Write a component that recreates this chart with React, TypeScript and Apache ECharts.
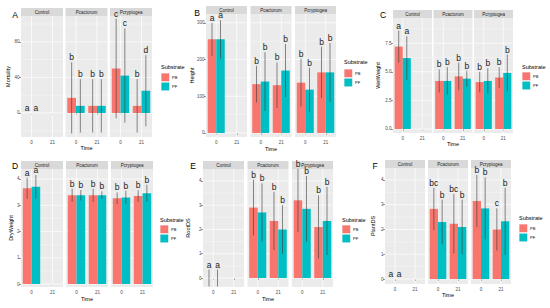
import React, { useEffect, useRef } from "react";
import * as echarts from "echarts";

const facets = ["Control", "Pcactorum", "Pcryptogea"];
const times = ["0", "21"];
const substrates = ["PB", "PF"];
const panelLetters = ["A", "B", "C", "D", "E", "F"];
const yTitles = ["Mortality", "Height", "WetWeight", "DryWeight", "RootDS", "PlantDS"];
const xTitle = "Time";
const legendTitle = "Substrate";

// order in every array: Control-0, Control-21, Pcactorum-0, Pcactorum-21, Pcryptogea-0, Pcryptogea-21
const mortalityPB = [0, null, 17, 8, 50, 8];
const mortalityPBsd = [0, null, 40, 30, 56, 30];
const mortalityPF = [0, null, 8, 8, 42, 25];
const mortalityPFsd = [0, null, 30, 30, 53, 40];
const mortalityPBletters = ["a", "", "b", "b", "c", "b"];
const mortalityPFletters = ["a", "", "b", "b", "c", "d"];
const mortalityTicks = [0, 40, 80];

const heightPB = [255, null, 133, 130, 137, 165];
const heightPBsd = [45, null, 50, 62, 65, 70];
const heightPF = [255, null, 140, 170, 118, 165];
const heightPFsd = [52, null, 80, 72, 60, 80];
const heightPBletters = ["a", "", "b", "b", "b", "b"];
const heightPFletters = ["a", "", "b", "b", "b", "b"];
const heightTicks = [0, 100, 200, 300];

const wetPB = [7.2, null, 4.2, 4.6, 4.1, 4.5];
const wetPBsd = [1.4, null, 1.0, 1.2, 0.9, 0.9];
const wetPF = [6.2, null, 4.2, 4.4, 4.2, 4.9];
const wetPFsd = [1.9, null, 1.2, 0.7, 1.1, 1.6];
const wetPBletters = ["a", "", "b", "b", "b", "b"];
const wetPFletters = ["a", "", "b", "b", "b", "b"];
const wetTicks = [0, 2.5, 5, 7.5];

const dryPB = [3.65, null, 3.38, 3.38, 3.27, 3.35];
const dryPBsd = [0.4, null, 0.25, 0.25, 0.22, 0.22];
const dryPF = [3.7, null, 3.38, 3.38, 3.3, 3.46];
const dryPFsd = [0.45, null, 0.2, 0.15, 0.25, 0.32];
const dryPBletters = ["a", "", "b", "b", "b", "b"];
const dryPFletters = ["a", "", "b", "b", "b", "b"];
const dryTicks = [0, 1, 2, 3, 4];

const rootPB = [0, null, 2.9, 2.35, 3.2, 2.1];
const rootPBsd = [0.35, null, 1.15, 1.2, 1.3, 1.3];
const rootPF = [0, null, 2.7, 2.0, 2.85, 2.35];
const rootPFsd = [0.35, null, 1.2, 1.0, 1.35, 1.4];
const rootPBletters = ["a", "", "b", "b", "b", "b"];
const rootPFletters = ["a", "", "b", "b", "b", "b"];
const rootTicks = [0, 1, 2, 3, 4];

const plantPB = [0, null, 2.83, 2.23, 3.15, 2.0];
const plantPBsd = [0, null, 0.85, 1.2, 1.05, 0.85];
const plantPF = [0, null, 2.3, 2.1, 2.85, 2.33];
const plantPFsd = [0, null, 0.9, 1.1, 1.25, 1.35];
const plantPBletters = ["a", "", "bc", "bc", "b", "c"];
const plantPFletters = ["a", "", "b", "b", "b", "b"];
const plantTicks = [0, 1, 2, 3, 4];

const panelData = [
  { pb: mortalityPB, pbSd: mortalityPBsd, pf: mortalityPF, pfSd: mortalityPFsd, pbL: mortalityPBletters, pfL: mortalityPFletters, ticks: mortalityTicks },
  { pb: heightPB, pbSd: heightPBsd, pf: heightPF, pfSd: heightPFsd, pbL: heightPBletters, pfL: heightPFletters, ticks: heightTicks },
  { pb: wetPB, pbSd: wetPBsd, pf: wetPF, pfSd: wetPFsd, pbL: wetPBletters, pfL: wetPFletters, ticks: wetTicks },
  { pb: dryPB, pbSd: dryPBsd, pf: dryPF, pfSd: dryPFsd, pbL: dryPBletters, pfL: dryPFletters, ticks: dryTicks },
  { pb: rootPB, pbSd: rootPBsd, pf: rootPF, pfSd: rootPFsd, pbL: rootPBletters, pfL: rootPFletters, ticks: rootTicks },
  { pb: plantPB, pbSd: plantPBsd, pf: plantPF, pfSd: plantPFsd, pbL: plantPBletters, pfL: plantPFletters, ticks: plantTicks },
];

// layout (pixels) and axis ranges
const layout = [
  { lefts: [21, 65.5, 110], w: 42, top: 16, bottom: 137, min: -27, max: 109, dec: 0, letter: [15, 15], yTitleX: 8, timeY: 148, legend: [161, 67, 73] },
  { lefts: [206, 250.5, 295], w: 41, top: 14, bottom: 137, min: -11, max: 324, dec: 0, letter: [197, 13], yTitleX: 192, timeY: 149, legend: [344, 62, 69] },
  { lefts: [393, 433.5, 474], w: 39, top: 18, bottom: 133, min: -0.35, max: 9.7, dec: 1, letter: [383, 15], yTitleX: 378, timeY: 144, legend: [522, 67, 72] },
  { lefts: [21, 66, 111], w: 42, top: 169, bottom: 287, min: -0.11, max: 4.38, dec: 0, letter: [15, 166], yTitleX: 11, timeY: 299, legend: [160, 220, 225] },
  { lefts: [203, 247.5, 292], w: 41, top: 169, bottom: 287, min: -0.37, max: 4.49, dec: 0, letter: [193, 166], yTitleX: 188, timeY: 299, legend: [342, 220, 225] },
  { lefts: [385, 428, 471], w: 40, top: 168, bottom: 284, min: -0.2, max: 4.48, dec: 0, letter: [375, 166], yTitleX: 373, timeY: 295, legend: [519, 218, 224] },
];

const COLORS = ["#F8766D", "#00BFC4"];
const FONT = "Liberation Sans, Arial, sans-serif";
const CAT_GAP = 0.17;
const STRIP_H = 8;

export default function App() {
  const ref = useRef<HTMLDivElement>(null);
  useEffect(() => {
    if (!ref.current) return;
    const chart = echarts.init(ref.current, null, { renderer: "svg" });
    const grid: any[] = [];
    const xAxis: any[] = [];
    const yAxis: any[] = [];
    const series: any[] = [];
    const graphic: any[] = [];

    panelData.forEach((d, p) => {
      const L = layout[p];
      const step = d.ticks[1] - d.ticks[0];
      const minor: number[] = [];
      for (let v = d.ticks[0] - step / 2; v <= L.max; v += step) if (v >= L.min) minor.push(v);

      facets.forEach((fname, f) => {
        const gi = p * 3 + f;
        grid.push({
          left: L.lefts[f], top: L.top, width: L.w, height: L.bottom - L.top,
          show: true, backgroundColor: "#EBEBEB", borderWidth: 0,
        });
        xAxis.push({
          gridIndex: gi, type: "category", data: times,
          axisLine: { show: false },
          axisTick: { show: true, alignWithLabel: true, length: 2, lineStyle: { color: "#333", width: 0.5 } },
          axisLabel: { fontSize: 4.5, color: "#4D4D4D", margin: 2.5, fontFamily: FONT },
          splitLine: { show: false },
        });
        yAxis.push({
          gridIndex: gi, type: "value", min: L.min, max: L.max,
          axisLine: { show: false },
          splitLine: { show: false },
          axisTick: { show: f === 0, length: 2, customValues: d.ticks, lineStyle: { color: "#333", width: 0.5 } },
          axisLabel: {
            show: f === 0, customValues: d.ticks, fontSize: 4.5, color: "#4D4D4D", margin: 1.5, fontFamily: FONT,
            formatter: (v: number) => v.toFixed(L.dec),
          },
        });
        // background grid lines
        const gl: any[] = [];
        d.ticks.forEach((t) => gl.push([0, t, 0]));
        minor.forEach((t) => gl.push([0, t, 1]));
        times.forEach((_, t) => gl.push([t, 0, 2]));
        series.push({
          type: "custom", xAxisIndex: gi, yAxisIndex: gi, z: 1, silent: true,
          encode: { x: 0, y: 1 }, data: gl,
          renderItem: (params: any, api: any) => {
            const cs = params.coordSys;
            const kind = api.value(2);
            if (kind === 2) {
              const x = api.coord([api.value(0), 0])[0];
              return { type: "line", shape: { x1: x, y1: cs.y, x2: x, y2: cs.y + cs.height }, style: { stroke: "#FFFFFF", lineWidth: 0.7 } };
            }
            const y = api.coord([0, api.value(1)])[1];
            return { type: "line", shape: { x1: cs.x, y1: y, x2: cs.x + cs.width, y2: y }, style: { stroke: "#FFFFFF", lineWidth: kind === 1 ? 0.35 : 0.7 } };
          },
        });
        const means = [d.pb, d.pf];
        const sds = [d.pbSd, d.pfSd];
        const lets = [d.pbL, d.pfL];
        substrates.forEach((s, si) => {
          series.push({
            type: "bar", name: s, xAxisIndex: gi, yAxisIndex: gi, z: 2,
            data: [means[si][f * 2], means[si][f * 2 + 1]],
            itemStyle: { color: COLORS[si] },
            barGap: "0%", barCategoryGap: CAT_GAP * 100 + "%",
          });
        });
        const eb: any[] = [];
        const ebLetters: string[] = [];
        times.forEach((_, t) => {
          substrates.forEach((_s, si) => {
            const m = means[si][f * 2 + t];
            if (m === null || m === undefined) return;
            eb.push([t, m, sds[si][f * 2 + t], si]);
            ebLetters.push(lets[si][f * 2 + t]);
          });
        });
        series.push({
          type: "custom", xAxisIndex: gi, yAxisIndex: gi, z: 3, silent: true, clip: false,
          encode: { x: 0, y: 1 }, data: eb,
          renderItem: (params: any, api: any) => {
            const t = api.value(0), m = api.value(1), sd = api.value(2), si = api.value(3);
            const band = api.size([1, 0])[0];
            const bw = (band * (1 - CAT_GAP)) / 2;
            const c = api.coord([t, m]);
            const x = c[0] + (si === 0 ? -bw / 2 : bw / 2);
            const top = api.coord([t, m + sd])[1];
            const bot = api.coord([t, m - sd])[1];
            const children: any[] = [];
            if (sd > 0) {
              children.push({ type: "line", shape: { x1: x, y1: top, x2: x, y2: bot }, style: { stroke: "#3A3A3A", lineWidth: 0.6 } });
            }
            children.push({
              type: "text",
              style: { text: ebLetters[params.dataIndex], x, y: top - 0.5, fill: "#1A1A1A", fontSize: 8.5, fontFamily: FONT, align: "center", verticalAlign: "bottom" },
            });
            return { type: "group", children };
          },
        });
        // facet strip
        graphic.push({ type: "rect", shape: { x: L.lefts[f], y: L.top - STRIP_H, width: L.w, height: STRIP_H }, style: { fill: "#D9D9D9" }, silent: true });
        graphic.push({
          type: "text", x: L.lefts[f] + L.w / 2, y: L.top - STRIP_H / 2, silent: true,
          style: { text: fname, fontSize: 4.5, fill: "#1A1A1A", fontFamily: FONT, align: "center", verticalAlign: "middle" },
        });
      });

      // panel letter
      graphic.push({ type: "text", x: L.letter[0], y: L.letter[1], silent: true, style: { text: panelLetters[p], fontSize: 8.5, fill: "#000", fontFamily: FONT, align: "center", verticalAlign: "middle" } });
      // y title
      graphic.push({
        type: "text", x: L.yTitleX, y: (L.top + L.bottom) / 2, rotation: Math.PI / 2, silent: true,
        style: { text: yTitles[p], fontSize: 5.5, fill: "#000", fontFamily: FONT, align: "center", verticalAlign: "middle" },
      });
      // x title
      graphic.push({
        type: "text", x: (L.lefts[0] + L.lefts[2] + L.w) / 2, y: L.timeY, silent: true,
        style: { text: xTitle, fontSize: 5.5, fill: "#000", fontFamily: FONT, align: "center", verticalAlign: "middle" },
      });
      // legend
      const [lx, ly, sy] = L.legend;
      graphic.push({ type: "text", x: lx, y: ly, silent: true, style: { text: legendTitle, fontSize: 5.5, fill: "#000", fontFamily: FONT, align: "left", verticalAlign: "middle" } });
      substrates.forEach((s, si) => {
        graphic.push({ type: "rect", shape: { x: lx, y: sy + si * 9.2, width: 8.6, height: 8.6 }, style: { fill: "#F2F2F2" }, silent: true });
        graphic.push({ type: "rect", shape: { x: lx + 0.4, y: sy + si * 9.2 + 0.4, width: 7.8, height: 7.8 }, style: { fill: COLORS[si] }, silent: true });
        graphic.push({ type: "text", x: lx + 11, y: sy + si * 9.2 + 4.3, silent: true, style: { text: s, fontSize: 4, fill: "#000", fontFamily: FONT, align: "left", verticalAlign: "middle" } });
      });
    });

    chart.setOption({
      animation: false,
      backgroundColor: "#FFFFFF",
      textStyle: { fontFamily: FONT },
      grid, xAxis, yAxis, series, graphic,
    });
    return () => chart.dispose();
  }, []);
  return <div ref={ref} style={{ position: "fixed", left: 0, top: 0, width: 550, height: 308 }} />;
}
